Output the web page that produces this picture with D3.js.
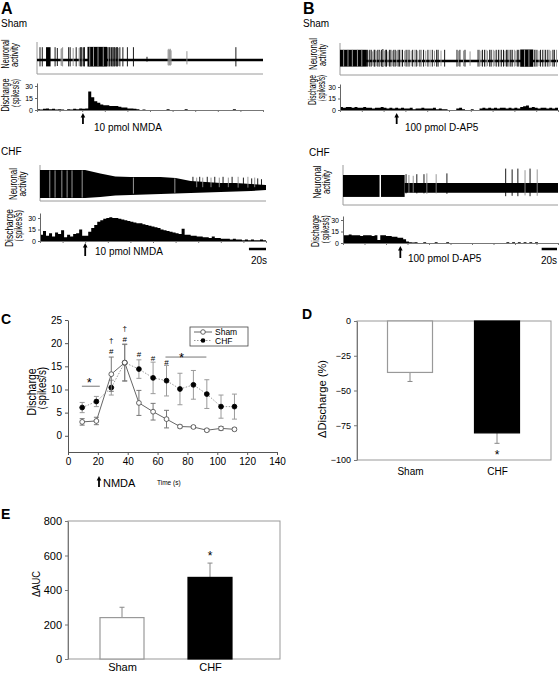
<!DOCTYPE html>
<html><head><meta charset="utf-8">
<script src="https://cdn.jsdelivr.net/npm/d3@7"></script>
<style>body{margin:0;background:#fff}svg{display:block;font-family:Arial,"Liberation Sans",sans-serif}</style>
</head><body><svg id="fig" width="560" height="673"></svg>
<script>
// ---------------- DATA ----------------
const traceSeconds = 300;          // length of each recording window (s)
const binSec = 4;                  // histogram bin width (s)
const histTicks = [0, 15, 30];
const histTimeTicks = [0, 30, 60, 90, 120, 150, 180, 210, 240, 270, 300];
const drugTimes = [61, 60, 78, 80];  // injection times: A-Sham, A-CHF, B-Sham, B-CHF (s)

// discharge histograms (spikes/s per 4-s bin)
const histAsham = [1,0.5,1.5,2,1,1.5,0.5,1,0.5,0,1,0.5,1.5,1,2,1.5,2,
  23,16,11,9,7,6,6,5,5,5,4,3,3,2,2,1.5,1,0,0.5,
  0,0,0,0,0,0,0,1,0,0,0,0,0,1,
  0,0,0,0,0,0,0,0,0,0,0,0,0,0,0,1,0,0,0,0,0,0,0,0,0];
const histAchf = [8,13,7,10,6,11,9,14,5,8,6,9,10,15,7,
  7,12,17,21,25,27,29,30,31,30,
  30,29,28,27,26,25,24,23,23,22,
  21,20,19,18,17,15,14,13,12,11,
  10,9,16,8,8,7,7,6,6,5,
  5,4,6,4,4,3,3,3,2,3,
  2,2,1,2,1,2,1,1,2,1];
const histBsham = [4,3,4,4,3,4,3,3,4,3,
  3,2,3,3,4,3,2,3,2,3,
  2,3,2,2,3,1,2,2,3,2,
  2,2,3,1,2,1,1,0,0,0,
  2,3,1,0,0,1,0,0,2,3,
  2,3,2,3,2,3,3,2,3,2,
  3,2,4,5,6,3,4,3,2,3,
  3,2,3,2,3];
const histBchf = [10,10,11,10,10,10,9,10,10,10,9,10,
  4,
  10,10,9,9,8,8,7,7,5,
  2,1,0.5,1,
  0,0,1,0,0,0,1,0,0,0,1,
  0,0,0,0,0,0,0,0,0,0,0,0,0,0,0,0,0,0,0,0,
  1,0,1,0,1,0,1,0,1,0,1,
  0,0,0,0,0,0,0];

// raw traces: spikes [time s, amplitude, grey?], bursts [t0, t1, amplitude]
const spikesAsham = [[4,0.8,0],[7,0.8,0],[24,0.8,0],[27,0.75,0],[32,0.7,1],[33,0.75,1],[34,0.8,1],[42,0.8,0],[44,0.8,0],[48,0.75,1],[52,0.8,0],[56,0.75,1],[57,0.8,1],[58,0.8,0],[59,0.8,0],[60,0.8,1],[61,0.75,1],[62,0.8,0],[63,0.8,0],
  [94,0.8,0],[95,0.8,1],[96,0.8,0],[97,0.8,0],[98,0.75,1],[99,0.8,0],[100,0.8,0],[101,0.8,1],[102,0.8,0],[103,0.8,0],[104,0.75,1],[105,0.8,0],[106,0.8,0],[107,0.8,0],[108,0.75,1],[110,0.8,0],[114,0.8,0],[120,0.8,0],[128,0.8,0],[146,0.2,0],
  [174,0.65,1],[175,0.7,1],[176,0.65,1],[177,0.7,1],[178,0.6,1],[199,0.55,1],[264,0.8,0]];
const burstsAsham = [[12,18,0.8],[67,93,0.82]];
const streaksAsham = [[70,0.8,-0.4],[75,0.8,-0.4],[81,0.8,-0.4],[88,0.8,-0.4]];

const spikesBsham = [[38,0.7,0],[40,0.65,1],[41,0.7,0],[43,0.7,0],[45,0.6,1],[47,0.7,0],[48,0.7,0],[50,0.65,1],[52,0.7,0],[54,0.7,0],[55,0.6,1],[57,0.7,0],[59,0.75,0],[61,0.65,1],[63,0.7,0],[64,0.7,0],[66,0.6,1],[68,0.7,0],[70,0.7,0],[72,0.65,1],[74,0.7,0],[76,0.7,0],[78,0.65,1],[80,0.7,0],[82,0.7,0],
  [84,0.7,1],[86,0.7,0],[89,0.65,1],[91,0.7,0],[93,0.7,1],[95,0.7,0],[98,0.65,1],[100,0.7,0],[103,0.7,1],[105,0.7,0],[107,0.65,1],[110,0.7,0],[112,0.7,1],[115,0.7,0],[118,0.65,1],[121,0.7,0],[124,0.7,1],[127,0.7,0],[130,0.65,1],[133,0.7,0],
  [135,0.7,0],[139,0.65,1],[144,0.7,0],[161,0.7,0],[163,0.65,1],[165,0.7,0],[170,0.65,1],[172,0.7,0],[179,0.6,1],
  [190,0.7,0],[192,0.7,1],[194,0.65,1],[196,0.7,0],[199,0.7,0],[201,0.7,1],[203,0.65,1],[206,0.7,0],[208,0.7,0],[211,0.7,1],[213,0.65,1],[215,0.7,0],[218,0.7,0],[220,0.7,1],[222,0.7,0],[225,0.7,0],[227,0.65,1],[229,0.7,0],[231,0.7,0],[233,0.7,1],[235,0.7,0],[237,0.7,0],[240,0.7,1],[242,0.65,1],[244,0.7,0],[246,0.7,0],
  [268,0.7,0],[269,0.7,1],[271,0.7,0],[274,0.65,1],[276,0.7,0],[279,0.7,0],[281,0.7,1],[283,0.7,0],[286,0.7,0],[288,0.7,1],[290,0.65,1],[293,0.7,0],[295,0.7,0],[298,0.7,1]];
const burstsBsham = [[0,37,0.7],[248,266,0.72]];
const streaksBsham = [[5,0.7,-0.35],[11,0.7,-0.35],[17,0.7,-0.35],[24,0.7,-0.35],[30,0.7,-0.35],[254,0.72,-0.36],[260,0.72,-0.36]];

// CHF traces: envelope of the dense firing band (amplitude units)
const envTimes = [0,20,40,60,80,100,120,140,160,180,200,220,240,260,280,300];
const envAchfTop = [0.875,0.875,0.875,0.875,0.66,0.47,0.44,0.44,0.44,0.375,0.19,0.125,0.06,0.06,0,-0.06];
const envAchfBot = [-0.875,-0.875,-0.875,-0.875,-0.81,-0.72,-0.69,-0.66,-0.62,-0.59,-0.56,-0.53,-0.5,-0.47,-0.44,-0.375];
const spikesAchf = [[203,0.45,0],[208,0.4,1],[212,0.45,0],[216,0.4,1],[222,0.45,0],[227,0.4,1],[232,0.45,0],[238,0.4,1],[243,0.45,0],[250,0.4,1],[255,0.45,0],[263,0.45,1],[270,0.4,0],[276,0.45,1],[281,0.35,0],[285,0.4,1],[289,0.35,0],[294,0.3,0]];
const streaksAchf = [[13,0.85,-0.85],[20,0.85,-0.85],[29,0.85,-0.85],[36,0.85,-0.85],[42.5,0.85,-0.85],[56,0.85,-0.85],[124,0.4,-0.6],[179,0.35,-0.55]];
const segsBchf = [[0,51,0.75,-0.62],[53,86,0.75,-0.62],[86,300,0.25,-0.36]];
const spikesBchf = [[88,0.8,0],[92,0.75,1],[98,0.7,1],[103,0.8,0],[113,0.8,0],[117,0.85,1],[130,0.8,1],[145,0.85,0],[227,1.15,0],[236,1.1,0],[244,1.15,0],[254,1.05,1],[261,1.15,0],[271,1.1,1]];

// panel C: time course (x positions as read against the 0-140 s axis)
const cTime = [9.5,19,29,38,47.5,57,66,75,84,93,102.5,111.5];
const shamMean = [3.0,3.2,13.3,15.8,7.1,5.2,3.6,2.0,1.9,1.2,1.6,1.4];
const shamErr  = [0.7,0.8,3.7,4.0,2.7,1.8,1.9,0.3,0.3,0.3,0.4,0.3];
const chfMean  = [6.1,7.4,10.4,15.8,14.4,12.5,11.9,10.1,11.0,9.0,6.3,6.3];
const chfErr   = [1.1,1.1,1.6,3.9,2.0,3.4,3.3,3.4,3.1,3.1,2.5,2.7];
const cYTicks = [0,5,10,15,20,25];
const cXTicks = [0,20,40,60,80,100,120,140];
const markX = [29,29,38,38,47.5,57,66];
const markSym = ["#","†","#","†","#","#","#"];
const markY = [17.7,20.0,20.3,22.6,17.0,16.1,15.3];
const sigLines = [[9.3,21.3,10.7],[65.3,92.7,17.0]];
const sigStars = [[14.3,11.3],[76,16.9]];

// panels D and E
const groups = ["Sham","CHF"];
const dMean = [-37,-80.5];
const dErr  = [6.5,7.5];
const dTicks = [0,-25,-50,-75,-100];
const eMean = [240,473];
const eErr  = [60,83];
const eTicks = [0,200,400,600,800];

// ---------------- DRAWING ----------------
const svg = d3.select("#fig");
const FONT = 'Arial, "Liberation Sans", sans-serif';

function text(x,y,s,o={}){
  const t=svg.append("text").attr("x",x).attr("y",y).text(s)
    .attr("font-size",o.size||10).attr("fill",o.fill||"#000")
    .attr("font-weight",o.weight||"normal").attr("text-anchor",o.anchor||"start");
  if(o.family) t.attr("font-family",o.family);
  if(o.len) t.attr("textLength",o.len).attr("lengthAdjust","spacingAndGlyphs");
  return t;
}
function vtext(x,y,s,size,len){
  const t=svg.append("text").attr("transform",`translate(${x},${y}) rotate(-90)`)
    .attr("text-anchor","middle").attr("font-size",size).text(s);
  if(len) t.attr("textLength",len).attr("lengthAdjust","spacingAndGlyphs");
  return t;
}
function arrow(x,yTip,yEnd){
  svg.append("line").attr("x1",x).attr("x2",x).attr("y1",yTip+3).attr("y2",yEnd)
    .attr("stroke","#000").attr("stroke-width",1.8);
  svg.append("path").attr("d",`M${x-2.3},${yTip+4.5}L${x},${yTip}L${x+2.3},${yTip+4.5}Z`).attr("fill","#000");
}
function styleAxis(a,size,col){
  a.attr("font-family",FONT);
  a.selectAll("text").attr("font-size",size).attr("fill","#000");
  a.select(".domain").attr("stroke",col);
  a.selectAll(".tick line").attr("stroke",col);
}

function tracePanel(p){
  const xs=d3.scaleLinear().domain([0,traceSeconds]).range([p.x0,p.x1]);
  const ya=d3.scaleLinear().domain([-1,1]).range([p.base+16,p.base-16]);
  const g=svg.append("g");
  g.append("path").attr("d",`M${p.x0},${p.boxTop}V${p.boxBot}H${p.x1}`)
    .attr("fill","none").attr("stroke","#9a9a9a").attr("stroke-width",1);
  if(p.baseline) g.append("line").attr("x1",p.x0).attr("x2",p.x1).attr("y1",p.base).attr("y2",p.base)
    .attr("stroke","#000").attr("stroke-width",2.4);
  if(p.env){
    const area=d3.area().x((d,i)=>xs(envTimes[i])).y0((d,i)=>ya(p.env.bot[i])).y1(d=>ya(d));
    g.append("path").datum(p.env.top).attr("d",area).attr("fill","#000");
  }
  (p.segs||[]).forEach(s=>g.append("rect").attr("x",xs(s[0])).attr("width",xs(s[1])-xs(s[0]))
    .attr("y",ya(s[2])).attr("height",ya(s[3])-ya(s[2])).attr("fill","#000"));
  (p.bursts||[]).forEach(b=>g.append("rect").attr("x",xs(b[0])).attr("width",xs(b[1])-xs(b[0]))
    .attr("y",ya(b[2])).attr("height",ya(-0.5*b[2])-ya(b[2])).attr("fill","#000"));
  g.selectAll(".streak").data(p.streaks||[]).join("line")
    .attr("x1",d=>xs(d[0])).attr("x2",d=>xs(d[0])).attr("y1",d=>ya(d[1])).attr("y2",d=>ya(d[2]))
    .attr("stroke","#a8a8a8").attr("stroke-width",0.9);
  g.selectAll(".spk").data(p.spikes||[]).join("line")
    .attr("x1",d=>xs(d[0])).attr("x2",d=>xs(d[0])).attr("y1",d=>ya(d[1])).attr("y2",d=>ya(-0.5*d[1]))
    .attr("stroke",d=>d[2]?"#8c8c8c":"#000").attr("stroke-width",0.9);
  // histogram as a step area
  const yh=d3.scaleLinear().domain([0,30]).range([p.h0,p.h30]);
  const hd=p.hist.concat([p.hist[p.hist.length-1]]);
  const harea=d3.area().curve(d3.curveStepAfter).x((d,i)=>xs(i*binSec)).y0(yh(0)).y1(d=>yh(d));
  g.append("path").datum(hd).attr("d",harea).attr("fill","#000");
  const yAx=d3.scaleLinear().domain([0,yh.invert(p.hTop)]).range([p.h0,p.hTop]);
  g.append("g").attr("transform",`translate(${p.x0},0)`)
    .call(d3.axisLeft(yAx).tickValues(histTicks).tickSize(2).tickSizeOuter(0).tickPadding(2))
    .call(a=>styleAxis(a,7,"#666"));
  g.append("g").attr("transform",`translate(0,${p.h0})`)
    .call(d3.axisBottom(xs).tickValues(histTimeTicks).tickSize(2).tickSizeOuter(0).tickFormat(""))
    .call(a=>styleAxis(a,7,"#777"));
  return xs;
}

// ---- Panel A ----
text(1,14,"A",{size:16,weight:"bold"});
text(1,27,"Sham",{size:10});
const xA1=tracePanel({x0:37,x1:263,boxTop:42,boxBot:74,base:60,baseline:true,h0:110,h30:86,hTop:83,
  hist:histAsham,spikes:spikesAsham,bursts:burstsAsham,streaks:streaksAsham});
vtext(9,54,"Neuronal",10.5,29); vtext(18,55,"activity",10.5,24);
vtext(9,95,"Discharge",10.5,33); vtext(19,95,"（spikes/s)",10.5,32);
arrow(xA1(drugTimes[0]),113,124);
text(94,131,"10 pmol NMDA",{size:10});

text(1,155,"CHF",{size:10});
const xA2=tracePanel({x0:40,x1:266,boxTop:165,boxBot:201,base:184,h0:241,h30:218,hTop:213,
  hist:histAchf,env:{top:envAchfTop,bot:envAchfBot},spikes:spikesAchf,streaks:streaksAchf});
vtext(17,184,"Neuronal",10.5,32); vtext(26,184,"activity",10.5,25);
vtext(13,228,"Discharge",10.5,38); vtext(22,228,"（spikes/s)",10.5,36);
arrow(xA2(drugTimes[1]),243,256);
text(95,255,"10 pmol NMDA",{size:10});
svg.append("line").attr("x1",xA2(traceSeconds-20)-2).attr("x2",xA2(traceSeconds)).attr("y1",249).attr("y2",249)
  .attr("stroke","#000").attr("stroke-width",2.5);
text(259,264,"20s",{size:10,anchor:"middle"});

// ---- Panel B ----
text(303,14,"B",{size:16,weight:"bold"});
text(303,27,"Sham",{size:10});
const xB1=tracePanel({x0:340,x1:558,boxTop:43,boxBot:75,base:61,baseline:true,h0:110,h30:87,hTop:84,
  hist:histBsham,spikes:spikesBsham,bursts:burstsBsham,streaks:streaksBsham});
vtext(317,54,"Neuronal",10.5,32); vtext(326,55,"activity",10.5,22);
vtext(316,90,"Discharge",10.5,30); vtext(325,90,"（spikes/s)",10.5,30);
arrow(xB1(drugTimes[2]),113,124);
text(405,131,"100 pmol D-AP5",{size:10});

text(309,156,"CHF",{size:10});
const xB2=tracePanel({x0:343,x1:558,boxTop:165,boxBot:205,base:187,h0:243,h30:220,hTop:216,
  hist:histBchf,segs:segsBchf,spikes:spikesBchf});
vtext(321,182,"Neuronal",10.5,33); vtext(330,182,"activity",10.5,24);
vtext(319,231,"Discharge",10.5,32); vtext(329,231,"（spikes/s)",10.5,31);
arrow(xB2(drugTimes[3]),246,258);
text(408,262,"100 pmol D-AP5",{size:10});
svg.append("line").attr("x1",xB2(traceSeconds-20)-2).attr("x2",xB2(traceSeconds)-1).attr("y1",249).attr("y2",249)
  .attr("stroke","#000").attr("stroke-width",2.5);
text(549,264,"20s",{size:10,anchor:"middle"});

// ---- Panel C ----
text(1,324,"C",{size:14,weight:"bold"});
const cx=d3.scaleLinear().domain([0,140]).range([68,277]);
const cy=d3.scaleLinear().domain([-3.5,25]).range([452,320]);
const cg=svg.append("g");
cg.append("g").attr("transform","translate(68,0)")
  .call(d3.axisLeft(cy).tickValues(cYTicks).tickSize(3).tickSizeOuter(0))
  .call(a=>styleAxis(a,10,"#555"));
cg.append("g").attr("transform",`translate(0,${cy(-3.5)})`)
  .call(d3.axisBottom(cx).tickValues(cXTicks).tickSize(3).tickSizeOuter(0))
  .call(a=>styleAxis(a,10,"#555"));
vtext(36,392,"Discharge",12,47); vtext(46,391,"（spikes/s)",12,48);
function series(mean,err,opt){
  const pts=cTime.map((t,i)=>({t,m:mean[i],e:err[i]}));
  cg.append("path").datum(pts).attr("fill","none").attr("stroke",opt.line)
    .attr("stroke-width",1).attr("stroke-dasharray",opt.dash||null)
    .attr("d",d3.line().x(d=>cx(d.t)).y(d=>cy(d.m)));
  const eb=cg.append("g").attr("stroke",opt.err).attr("stroke-width",1);
  pts.forEach(d=>{
    eb.append("line").attr("x1",cx(d.t)).attr("x2",cx(d.t)).attr("y1",cy(d.m-d.e)).attr("y2",cy(d.m+d.e));
    [d.m-d.e,d.m+d.e].forEach(v=>eb.append("line").attr("x1",cx(d.t)-2.5).attr("x2",cx(d.t)+2.5).attr("y1",cy(v)).attr("y2",cy(v)));
  });
  cg.selectAll(null).data(pts).join("circle").attr("cx",d=>cx(d.t)).attr("cy",d=>cy(d.m)).attr("r",2.4)
    .attr("fill",opt.fill).attr("stroke",opt.stroke).attr("stroke-width",0.9);
}
series(chfMean,chfErr,{line:"#9a9a9a",dash:"1.5,1.5",err:"#9a9a9a",fill:"#000",stroke:"#000"});
series(shamMean,shamErr,{line:"#666",err:"#777",fill:"#fff",stroke:"#555"});
markX.forEach((t,i)=>text(cx(t),cy(markY[i]),markSym[i],{size:8,anchor:"middle"}));
sigLines.forEach(l=>cg.append("line").attr("x1",cx(l[0])).attr("x2",cx(l[1])).attr("y1",cy(l[2])).attr("y2",cy(l[2])).attr("stroke","#777").attr("stroke-width",1));
sigStars.forEach(s=>text(cx(s[0]),cy(s[1])+4,"*",{size:13,anchor:"middle"}));
// legend
cg.append("rect").attr("x",190).attr("y",327).attr("width",58).attr("height",19).attr("fill","#fff").attr("stroke","#444").attr("stroke-width",0.8);
cg.append("line").attr("x1",194).attr("x2",212).attr("y1",332).attr("y2",332).attr("stroke","#666");
cg.append("circle").attr("cx",203).attr("cy",332).attr("r",2.3).attr("fill","#fff").attr("stroke","#555").attr("stroke-width",0.9);
cg.append("line").attr("x1",194).attr("x2",212).attr("y1",340.5).attr("y2",340.5).attr("stroke","#9a9a9a").attr("stroke-dasharray","1.5,1.5");
cg.append("circle").attr("cx",203).attr("cy",340.5).attr("r",2.3).attr("fill","#000");
text(215,335,groups[0],{size:8.5}); text(215,343.5,groups[1],{size:8.5});
arrow(99,476,487);
text(103,487,"NMDA",{size:11});
text(157,485,"Time (s)",{size:6.5});

// ---- Panel D ----
text(302,319,"D",{size:14,weight:"bold"});
const dx=d3.scalePoint().domain(groups).range([410,497]);
const dy=d3.scaleLinear().domain([-100,0]).range([460,321]);
const dg=svg.append("g");
dg.append("rect").attr("x",357).attr("y",321).attr("width",194).attr("height",139).attr("fill","none").attr("stroke","#999");
const bwD=45;
groups.forEach((k,i)=>{
  const x=dx(k);
  dg.append("line").attr("x1",x).attr("x2",x).attr("y1",dy(dMean[i])).attr("y2",dy(dMean[i]-dErr[i])).attr("stroke","#888");
  dg.append("line").attr("x1",x-2.5).attr("x2",x+2.5).attr("y1",dy(dMean[i]-dErr[i])).attr("y2",dy(dMean[i]-dErr[i])).attr("stroke","#888");
  dg.append("rect").attr("x",x-bwD/2).attr("width",bwD).attr("y",dy(0)).attr("height",dy(dMean[i])-dy(0))
    .attr("fill",i?"#000":"#fff").attr("stroke",i?"#000":"#999").attr("stroke-width",1.2);
});
dg.append("g").attr("transform","translate(357,0)")
  .call(d3.axisLeft(dy).tickValues(dTicks).tickSize(3).tickSizeOuter(0))
  .call(a=>styleAxis(a,9,"#777"));
dg.append("g").attr("transform","translate(0,460)")
  .call(d3.axisBottom(dx).tickSize(0).tickPadding(8))
  .call(a=>{styleAxis(a,10,"#999");a.select(".domain").remove();});
text(dx(groups[1]),dy(dMean[1]-dErr[1])+16,"*",{size:12,anchor:"middle"});
vtext(326,399,"ΔDischarge (%)",11,78);

// ---- Panel E ----
text(1,519,"E",{size:14,weight:"bold"});
const ex=d3.scalePoint().domain(groups).range([122,210]);
const ey=d3.scaleLinear().domain([0,800]).range([659,521]);
const eg=svg.append("g");
eg.append("rect").attr("x",68).attr("y",521).attr("width",212).attr("height",138).attr("fill","none").attr("stroke","#999");
const bwE=44;
groups.forEach((k,i)=>{
  const x=ex(k);
  eg.append("line").attr("x1",x).attr("x2",x).attr("y1",ey(eMean[i])).attr("y2",ey(eMean[i]+eErr[i])).attr("stroke","#888");
  eg.append("line").attr("x1",x-2.5).attr("x2",x+2.5).attr("y1",ey(eMean[i]+eErr[i])).attr("y2",ey(eMean[i]+eErr[i])).attr("stroke","#888");
  eg.append("rect").attr("x",x-bwE/2).attr("width",bwE).attr("y",ey(eMean[i])).attr("height",ey(0)-ey(eMean[i]))
    .attr("fill",i?"#000":"#fff").attr("stroke",i?"#000":"#999").attr("stroke-width",1.2);
});
eg.append("g").attr("transform","translate(68,0)")
  .call(d3.axisLeft(ey).tickValues(eTicks).tickSize(3).tickSizeOuter(0))
  .call(a=>styleAxis(a,11,"#777"));
eg.append("g").attr("transform","translate(0,659)")
  .call(d3.axisBottom(ex).tickSize(0).tickPadding(4))
  .call(a=>{styleAxis(a,11,"#999");a.select(".domain").remove();});
text(ex(groups[1]),ey(eMean[1]+eErr[1])-3,"*",{size:12,anchor:"middle"});
vtext(40,584,"ΔAUC",11,26);
</script></body></html>
